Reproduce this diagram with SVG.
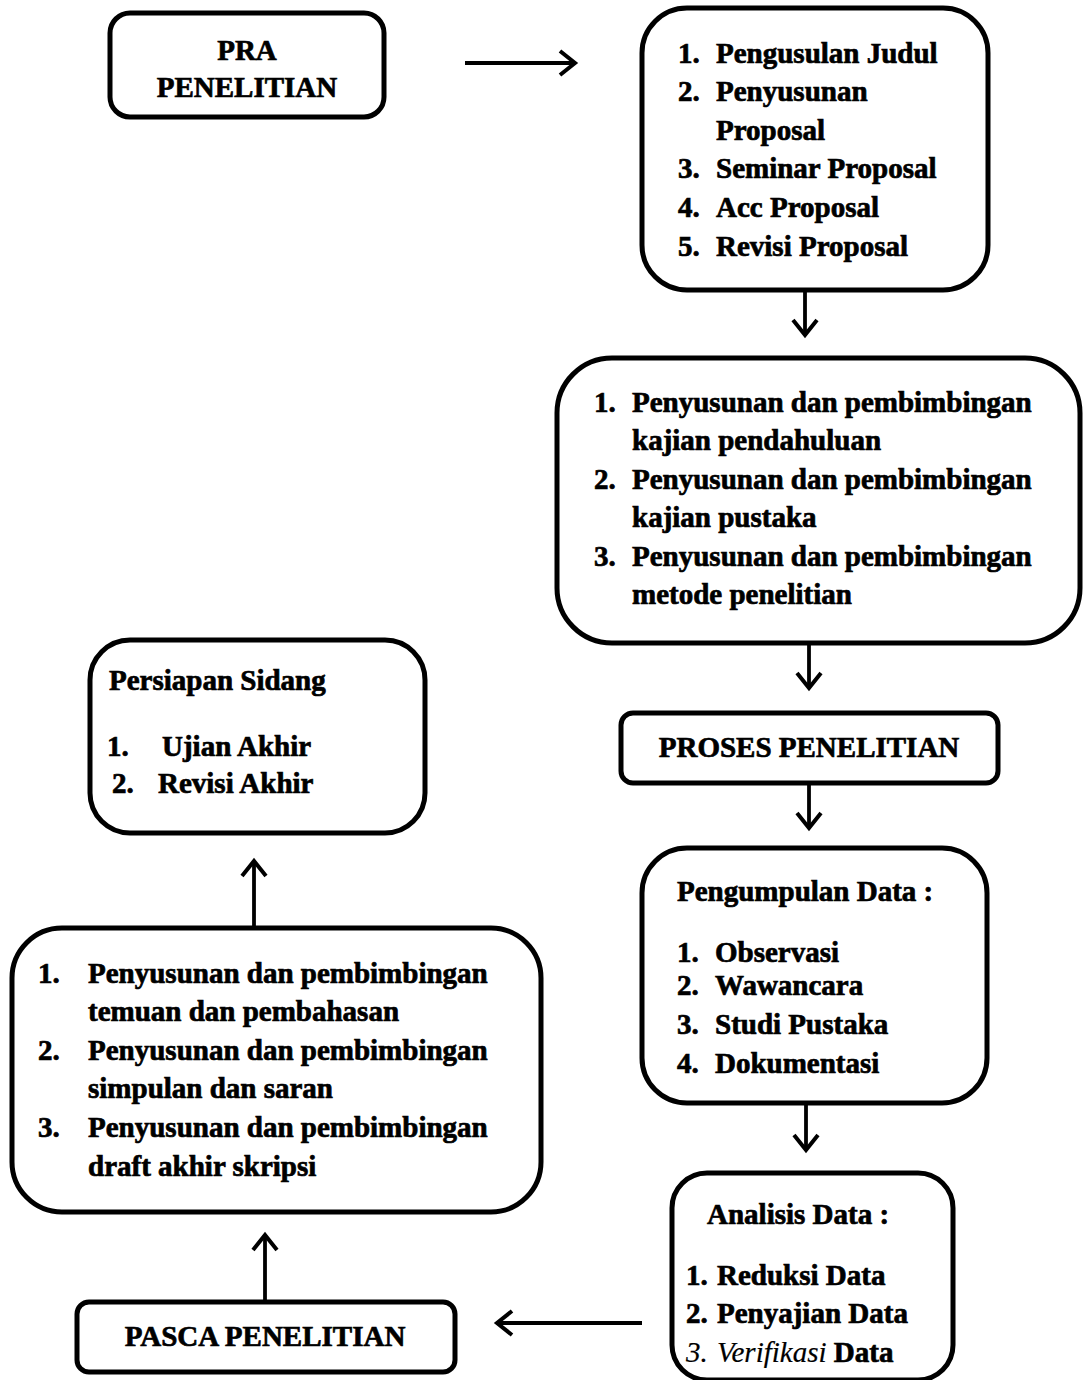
<svg xmlns="http://www.w3.org/2000/svg" width="1083" height="1380" viewBox="0 0 1083 1380">
<style>
.box{fill:#fff;stroke:#000;stroke-width:5}
.t{font-family:"Liberation Serif","Times New Roman",serif;font-weight:bold;font-size:29px;fill:#000;stroke:#000;stroke-width:0.7}
.c{text-anchor:middle}
.i{font-style:italic;font-weight:normal;stroke-width:0.2}
.con line{stroke:#000;stroke-width:3.8}
</style>
<defs>
<marker id="arr" markerUnits="userSpaceOnUse" markerWidth="40" markerHeight="40" viewBox="-20 -20 40 40" refX="0" refY="0" orient="auto" overflow="visible">
<path d="M-15,-12 L0,0 L-15,12" fill="none" stroke="#000" stroke-width="4" stroke-linejoin="miter"/>
</marker>
</defs>
<rect width="1083" height="1380" fill="#fff"/>
<g id="connectors" class="con">
<line x1="465" y1="63" x2="575" y2="63" marker-end="url(#arr)"/>
<line x1="805" y1="290" x2="805" y2="335" marker-end="url(#arr)"/>
<line x1="809" y1="643" x2="809" y2="688" marker-end="url(#arr)"/>
<line x1="809" y1="783" x2="809" y2="828" marker-end="url(#arr)"/>
<line x1="806" y1="1103" x2="806" y2="1150" marker-end="url(#arr)"/>
<line x1="642" y1="1323" x2="497" y2="1323" marker-end="url(#arr)"/>
<line x1="265" y1="1302" x2="265" y2="1235" marker-end="url(#arr)"/>
<line x1="254" y1="928" x2="254" y2="861" marker-end="url(#arr)"/>
</g>
<g id="pra">
<rect class="box" x="110" y="13" width="274" height="104" rx="20"/>
<text class="t c" x="247" y="60">PRA</text>
<text class="t c" x="247" y="97">PENELITIAN</text>
</g>
<g id="proposal">
<rect class="box" x="642" y="8" width="346" height="282" rx="45"/>
<text class="t" x="678" y="63">1.</text><text class="t" x="716" y="63">Pengusulan Judul</text>
<text class="t" x="678" y="101">2.</text><text class="t" x="716" y="101">Penyusunan</text>
<text class="t" x="716" y="140">Proposal</text>
<text class="t" x="678" y="178">3.</text><text class="t" x="716" y="178">Seminar Proposal</text>
<text class="t" x="678" y="217">4.</text><text class="t" x="716" y="217">Acc Proposal</text>
<text class="t" x="678" y="256">5.</text><text class="t" x="716" y="256">Revisi Proposal</text>
</g>
<g id="kajian">
<rect class="box" x="557" y="358" width="523" height="285" rx="55"/>
<text class="t" x="594" y="412">1.</text><text class="t" x="632" y="412">Penyusunan dan pembimbingan</text>
<text class="t" x="632" y="450">kajian pendahuluan</text>
<text class="t" x="594" y="489">2.</text><text class="t" x="632" y="489">Penyusunan dan pembimbingan</text>
<text class="t" x="632" y="527">kajian pustaka</text>
<text class="t" x="594" y="566">3.</text><text class="t" x="632" y="566">Penyusunan dan pembimbingan</text>
<text class="t" x="632" y="604">metode penelitian</text>
</g>
<g id="proses">
<rect class="box" x="621" y="713" width="377" height="70" rx="12"/>
<text class="t c" x="809" y="757">PROSES PENELITIAN</text>
</g>
<g id="pengumpulan">
<rect class="box" x="642" y="848" width="345" height="255" rx="45"/>
<text class="t" x="677" y="901">Pengumpulan Data :</text>
<text class="t" x="677" y="962">1.</text><text class="t" x="715" y="962">Observasi</text>
<text class="t" x="677" y="995">2.</text><text class="t" x="715" y="995">Wawancara</text>
<text class="t" x="677" y="1034">3.</text><text class="t" x="715" y="1034">Studi Pustaka</text>
<text class="t" x="677" y="1073">4.</text><text class="t" x="715" y="1073">Dokumentasi</text>
</g>
<g id="analisis">
<rect class="box" x="672" y="1173" width="281" height="207" rx="35"/>
<text class="t" x="707" y="1224">Analisis Data :</text>
<text class="t" x="686" y="1285">1.</text><text class="t" x="717" y="1285">Reduksi Data</text>
<text class="t" x="686" y="1323">2.</text><text class="t" x="717" y="1323">Penyajian Data</text>
<text class="t i" x="686" y="1362">3.</text><text class="t" x="717" y="1362"><tspan class="i">Verifikasi</tspan> Data</text>
</g>
<g id="pasca">
<rect class="box" x="77" y="1302" width="378" height="70" rx="12"/>
<text class="t c" x="265" y="1346">PASCA PENELITIAN</text>
</g>
<g id="penyusunan-akhir">
<rect class="box" x="12" y="928" width="529" height="284" rx="50"/>
<text class="t" x="38" y="983">1.</text><text class="t" x="88" y="983">Penyusunan dan pembimbingan</text>
<text class="t" x="88" y="1021">temuan dan pembahasan</text>
<text class="t" x="38" y="1060">2.</text><text class="t" x="88" y="1060">Penyusunan dan pembimbingan</text>
<text class="t" x="88" y="1098">simpulan dan saran</text>
<text class="t" x="38" y="1137">3.</text><text class="t" x="88" y="1137">Penyusunan dan pembimbingan</text>
<text class="t" x="88" y="1176">draft akhir skripsi</text>
</g>
<g id="persiapan">
<rect class="box" x="90" y="640" width="335" height="193" rx="40"/>
<text class="t" x="109" y="690">Persiapan Sidang</text>
<text class="t" x="107" y="756">1.</text><text class="t" x="162" y="756">Ujian Akhir</text>
<text class="t" x="112" y="793">2.</text><text class="t" x="158" y="793">Revisi Akhir</text>
</g>
</svg>
